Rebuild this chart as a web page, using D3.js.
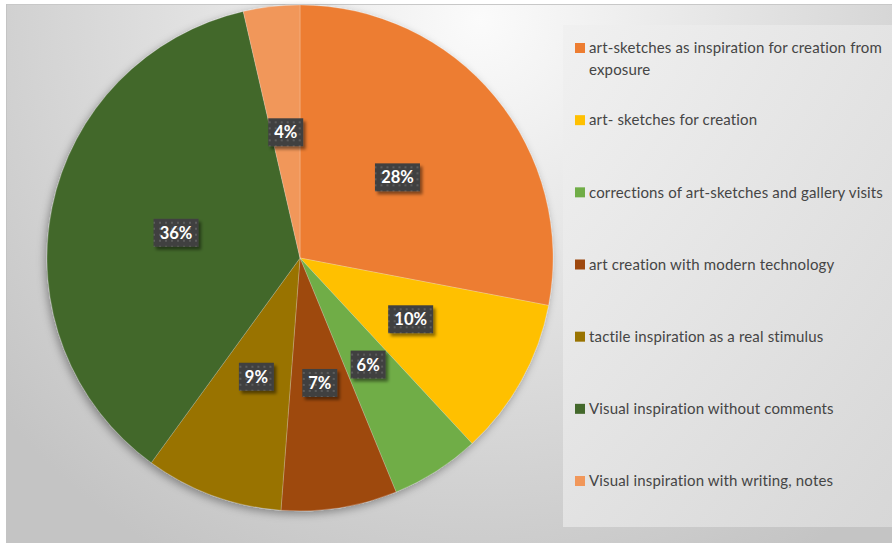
<!DOCTYPE html>
<html><head><meta charset="utf-8">
<script src="https://cdn.jsdelivr.net/npm/d3@7"></script>
<style>html,body{margin:0;padding:0;background:#fff;}svg{display:block;}</style>
</head><body>
<svg id="c" width="892" height="552"></svg>
<script>
const categories = [
  "art-sketches as inspiration for creation from exposure",
  "art- sketches for creation",
  "corrections of art-sketches and gallery visits",
  "art creation with modern technology",
  "tactile inspiration as a real stimulus",
  "Visual inspiration without comments",
  "Visual inspiration with writing, notes"
];
const values = [28.0, 10.1, 5.7, 7.4, 8.8, 36.4, 3.6];
const labels = ["28%", "10%", "6%", "7%", "9%", "36%", "4%"];
const legendLines = [
  ["art-sketches as inspiration for creation from", "exposure"],
  ["art- sketches for creation"],
  ["corrections of art-sketches and gallery visits"],
  ["art creation with modern technology"],
  ["tactile inspiration as a real stimulus"],
  ["Visual inspiration without comments"],
  ["Visual inspiration with writing, notes"]
];
const colors = ["#ED7D31", "#FFC000", "#70AD47", "#9E480E", "#997300", "#43682B", "#F1975A"];

const svg = d3.select("#c");
const defs = svg.append("defs");

const bg = defs.append("radialGradient").attr("id", "bg")
  .attr("gradientUnits", "userSpaceOnUse").attr("cx", 480).attr("cy", 20).attr("r", 620);
bg.append("stop").attr("offset", "0").attr("stop-color", "#fbfbfb");
bg.append("stop").attr("offset", "0.45").attr("stop-color", "#e2e2e2");
bg.append("stop").attr("offset", "1").attr("stop-color", "#c4c4c4");

const lg = defs.append("linearGradient").attr("id", "lg")
  .attr("x1", 0).attr("y1", 0).attr("x2", 1).attr("y2", 1);
lg.append("stop").attr("offset", "0").attr("stop-color", "#f0f0f0");
lg.append("stop").attr("offset", "1").attr("stop-color", "#d9d9d9");

const pat = defs.append("pattern").attr("id", "dots").attr("patternUnits", "userSpaceOnUse")
  .attr("width", 6).attr("height", 6);
pat.append("rect").attr("width", 6).attr("height", 6).attr("fill", "#404040");
pat.append("rect").attr("x", 1).attr("y", 1).attr("width", 2).attr("height", 2).attr("fill", "#5c5c5c");

const pieShadow = defs.append("filter").attr("id", "pshadow")
  .attr("x", "-20%").attr("y", "-20%").attr("width", "140%").attr("height", "140%");
pieShadow.append("feDropShadow").attr("dx", -2).attr("dy", 3).attr("stdDeviation", 4)
  .attr("flood-color", "#000").attr("flood-opacity", 0.35);

const lblShadow = defs.append("filter").attr("id", "lshadow")
  .attr("x", "-30%").attr("y", "-30%").attr("width", "160%").attr("height", "160%");
lblShadow.append("feDropShadow").attr("dx", 2.5).attr("dy", 3).attr("stdDeviation", 1.8)
  .attr("flood-color", "#000").attr("flood-opacity", 0.45);

// chart area
svg.append("rect").attr("x", 6).attr("y", 4).attr("width", 892).attr("height", 539)
  .attr("fill", "url(#bg)");
svg.append("line").attr("x1", 6).attr("x2", 892).attr("y1", 4.5).attr("y2", 4.5)
  .attr("stroke", "#c8c8c8").attr("stroke-width", 1);
svg.append("line").attr("x1", 6.5).attr("x2", 6.5).attr("y1", 4).attr("y2", 543)
  .attr("stroke", "#c4c4c4").attr("stroke-width", 1);

// legend box
svg.append("rect").attr("x", 563).attr("y", 25).attr("width", 340).attr("height", 502)
  .attr("fill", "url(#lg)").attr("opacity", 0.9);

const cx = 300, cy = 258, R = 253;
const pie = d3.pie().value(d => d).sort(null);
const arcs = pie(values);
const arc = d3.arc().innerRadius(0).outerRadius(R);

const g = svg.append("g").attr("transform", `translate(${cx},${cy})`);
g.append("g").attr("filter", "url(#pshadow)")
  .selectAll("path").data(arcs).join("path")
  .attr("d", arc).attr("fill", (d, i) => colors[i])
  .attr("stroke", "rgba(255,255,255,0.35)").attr("stroke-width", 0.6);

const lblG = g.append("g").selectAll("g").data(arcs).join("g")
  .attr("transform", d => { const c = arc.centroid(d); return `translate(${c[0]},${c[1]})`; });
lblG.each(function (d, i) {
  const s = d3.select(this);
  const t = s.append("text").text(labels[i])
    .attr("text-anchor", "middle").attr("dy", "0.36em")
    .attr("font-family", "Lato, 'Open Sans', sans-serif").attr("font-weight", "bold")
    .attr("font-size", 16.5).attr("fill", "#fff");
  const w = t.node().getComputedTextLength();
  const bw = Math.round(w + 12), bh = 28;
  s.insert("rect", "text").attr("x", -bw / 2).attr("y", -bh / 2)
    .attr("width", bw).attr("height", bh).attr("fill", "url(#dots)")
    .attr("filter", "url(#lshadow)");
});

// legend
const ly = d3.scaleLinear().domain([0, 6]).range([48, 481]);
const leg = svg.append("g").selectAll("g").data(categories).join("g")
  .attr("transform", (d, i) => `translate(575,${ly(i)})`);
leg.append("rect").attr("x", 0).attr("y", -5).attr("width", 10).attr("height", 10)
  .attr("fill", (d, i) => colors[i]);
leg.each(function (d, i) {
  const t = d3.select(this).append("text")
    .attr("font-family", "Lato, 'Open Sans', sans-serif").attr("font-size", 15)
    .attr("letter-spacing", 0.15)
    .attr("fill", "#454545");
  legendLines[i].forEach((ln, k) => {
    t.append("tspan").attr("x", 14).attr("y", k * 22).attr("dy", "0.35em").text(ln);
  });
});
</script>
</body></html>
